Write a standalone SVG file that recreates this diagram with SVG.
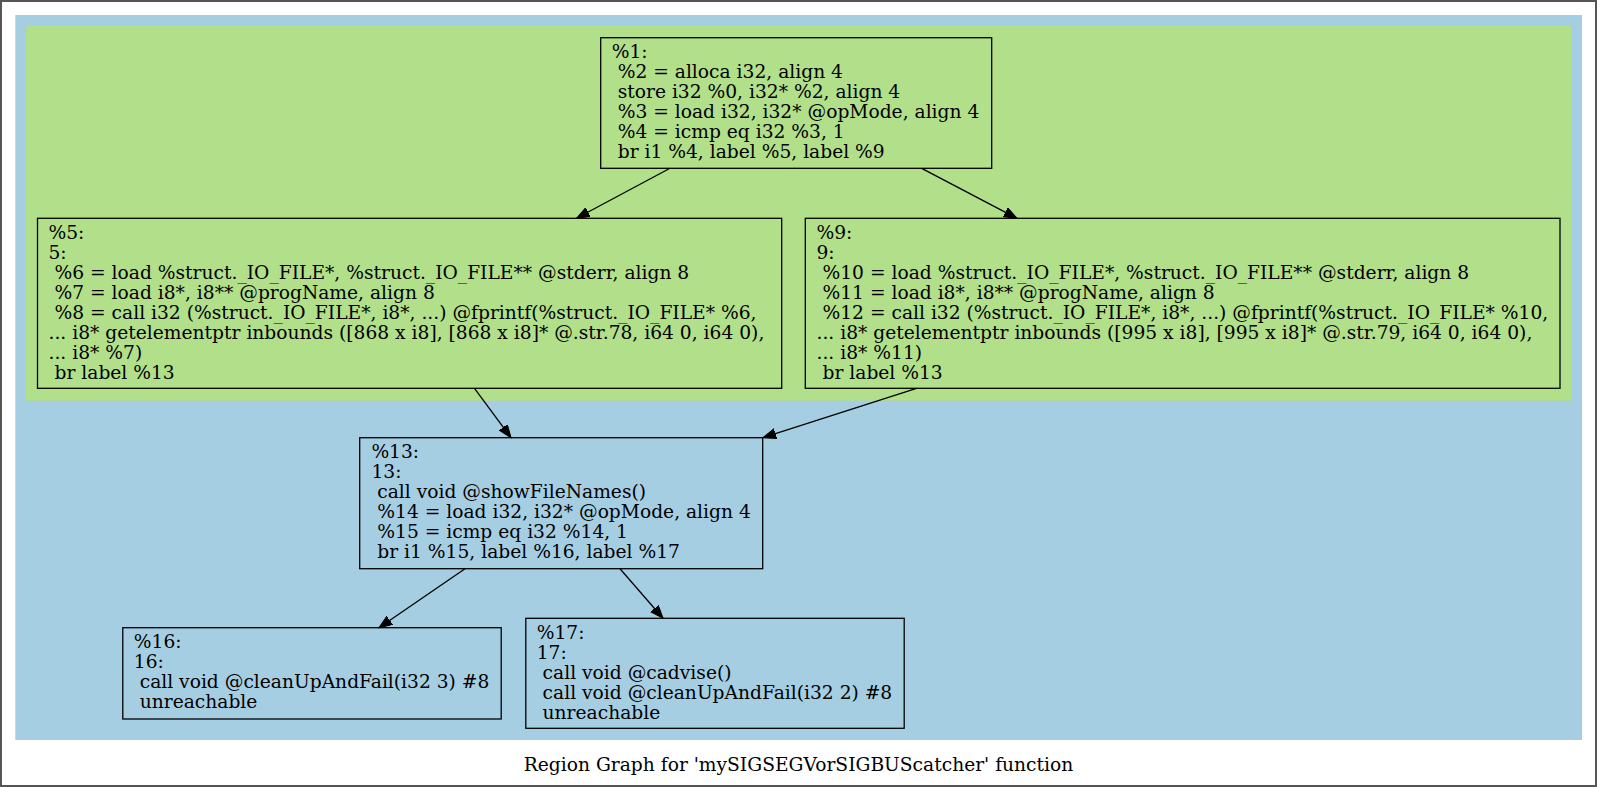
<svg xmlns="http://www.w3.org/2000/svg" width="1597" height="787" viewBox="0 0 1597 787">
<style>
.t{font-family:"DejaVu Serif","Liberation Serif",serif;font-size:18.67px;fill:#000}
.n{fill:none;stroke:#000;stroke-width:1.3}
.e{fill:none;stroke:#000;stroke-width:1.3}
</style>
<defs>
<marker id="ah" markerUnits="userSpaceOnUse" markerWidth="16" markerHeight="12" refX="13" refY="5" orient="auto">
<path d="M0,0 L13,5 L0,10 Z" fill="#000" stroke="#000" stroke-width="1"/>
</marker>
</defs>
<rect x="0" y="0" width="1597" height="787" fill="#fff"/>
<rect x="1" y="1" width="1595" height="785" fill="none" stroke="#555" stroke-width="2"/>
<g id="cluster_outer"><rect x="15.3" y="15" width="1566.7" height="725" fill="#a6cee3"/></g>
<g id="cluster_inner"><rect x="26" y="26" width="1545" height="374.7" fill="#b2df8a"/></g>

<g id="node1">
<rect class="n" x="600.7" y="37.7" width="391" height="130.6"/>
<text class="t" x="611.7" y="58">%1:</text>
<text class="t" x="617.7" y="78">%2 = alloca i32, align 4</text>
<text class="t" x="617.7" y="98">store i32 %0, i32* %2, align 4</text>
<text class="t" x="617.7" y="118">%3 = load i32, i32* @opMode, align 4</text>
<text class="t" x="617.7" y="138">%4 = icmp eq i32 %3, 1</text>
<text class="t" x="617.7" y="158">br i1 %4, label %5, label %9</text>
</g>

<g id="node5">
<rect class="n" x="37.5" y="218.3" width="744.2" height="170"/>
<text class="t" x="48.5" y="238.5">%5:</text>
<text class="t" x="48.5" y="258.5">5:</text>
<text class="t" x="54.5" y="278.5">%6 = load %struct._IO_FILE*, %struct._IO_FILE** @stderr, align 8</text>
<text class="t" x="54.5" y="298.5">%7 = load i8*, i8** @progName, align 8</text>
<text class="t" x="54.5" y="318.5">%8 = call i32 (%struct._IO_FILE*, i8*, ...) @fprintf(%struct._IO_FILE* %6,</text>
<text class="t" x="48.5" y="338.5">... i8* getelementptr inbounds ([868 x i8], [868 x i8]* @.str.78, i64 0, i64 0),</text>
<text class="t" x="48.5" y="358.5">... i8* %7)</text>
<text class="t" x="54.5" y="378.5">br label %13</text>
</g>

<g id="node9">
<rect class="n" x="805.3" y="218.3" width="754.7" height="170"/>
<text class="t" x="816.5" y="238.5">%9:</text>
<text class="t" x="816.5" y="258.5">9:</text>
<text class="t" x="822.5" y="278.5">%10 = load %struct._IO_FILE*, %struct._IO_FILE** @stderr, align 8</text>
<text class="t" x="822.5" y="298.5">%11 = load i8*, i8** @progName, align 8</text>
<text class="t" x="822.5" y="318.5">%12 = call i32 (%struct._IO_FILE*, i8*, ...) @fprintf(%struct._IO_FILE* %10,</text>
<text class="t" x="816.5" y="338.5">... i8* getelementptr inbounds ([995 x i8], [995 x i8]* @.str.79, i64 0, i64 0),</text>
<text class="t" x="816.5" y="358.5">... i8* %11)</text>
<text class="t" x="822.5" y="378.5">br label %13</text>
</g>

<g id="node13">
<rect class="n" x="359.7" y="437.7" width="403" height="131"/>
<text class="t" x="371.4" y="458">%13:</text>
<text class="t" x="371.4" y="478">13:</text>
<text class="t" x="377.3" y="498">call void @showFileNames()</text>
<text class="t" x="377.3" y="518">%14 = load i32, i32* @opMode, align 4</text>
<text class="t" x="377.3" y="538">%15 = icmp eq i32 %14, 1</text>
<text class="t" x="377.3" y="558">br i1 %15, label %16, label %17</text>
</g>

<g id="node16">
<rect class="n" x="122.8" y="627.7" width="378.4" height="91.3"/>
<text class="t" x="133.8" y="648">%16:</text>
<text class="t" x="133.8" y="668">16:</text>
<text class="t" x="139.7" y="688">call void @cleanUpAndFail(i32 3) #8</text>
<text class="t" x="139.7" y="708">unreachable</text>
</g>

<g id="node17">
<rect class="n" x="525.8" y="618.3" width="378.4" height="110"/>
<text class="t" x="536.7" y="638.5">%17:</text>
<text class="t" x="536.7" y="658.5">17:</text>
<text class="t" x="542.6" y="678.5">call void @cadvise()</text>
<text class="t" x="542.6" y="698.5">call void @cleanUpAndFail(i32 2) #8</text>
<text class="t" x="542.6" y="718.5">unreachable</text>
</g>

<g id="edges">
<line class="e" x1="670" y1="168.3" x2="576.5" y2="218.3" marker-end="url(#ah)"/>
<line class="e" x1="921.7" y1="168.3" x2="1017" y2="218.3" marker-end="url(#ah)"/>
<line class="e" x1="474.5" y1="388.3" x2="511" y2="437.7" marker-end="url(#ah)"/>
<line class="e" x1="916.5" y1="388.3" x2="763" y2="437.7" marker-end="url(#ah)"/>
<line class="e" x1="465" y1="568.7" x2="379" y2="627.7" marker-end="url(#ah)"/>
<line class="e" x1="620" y1="568.7" x2="663" y2="618.3" marker-end="url(#ah)"/>
</g>

<text class="t" x="798.5" y="771" text-anchor="middle">Region Graph for 'mySIGSEGVorSIGBUScatcher' function</text>
</svg>
